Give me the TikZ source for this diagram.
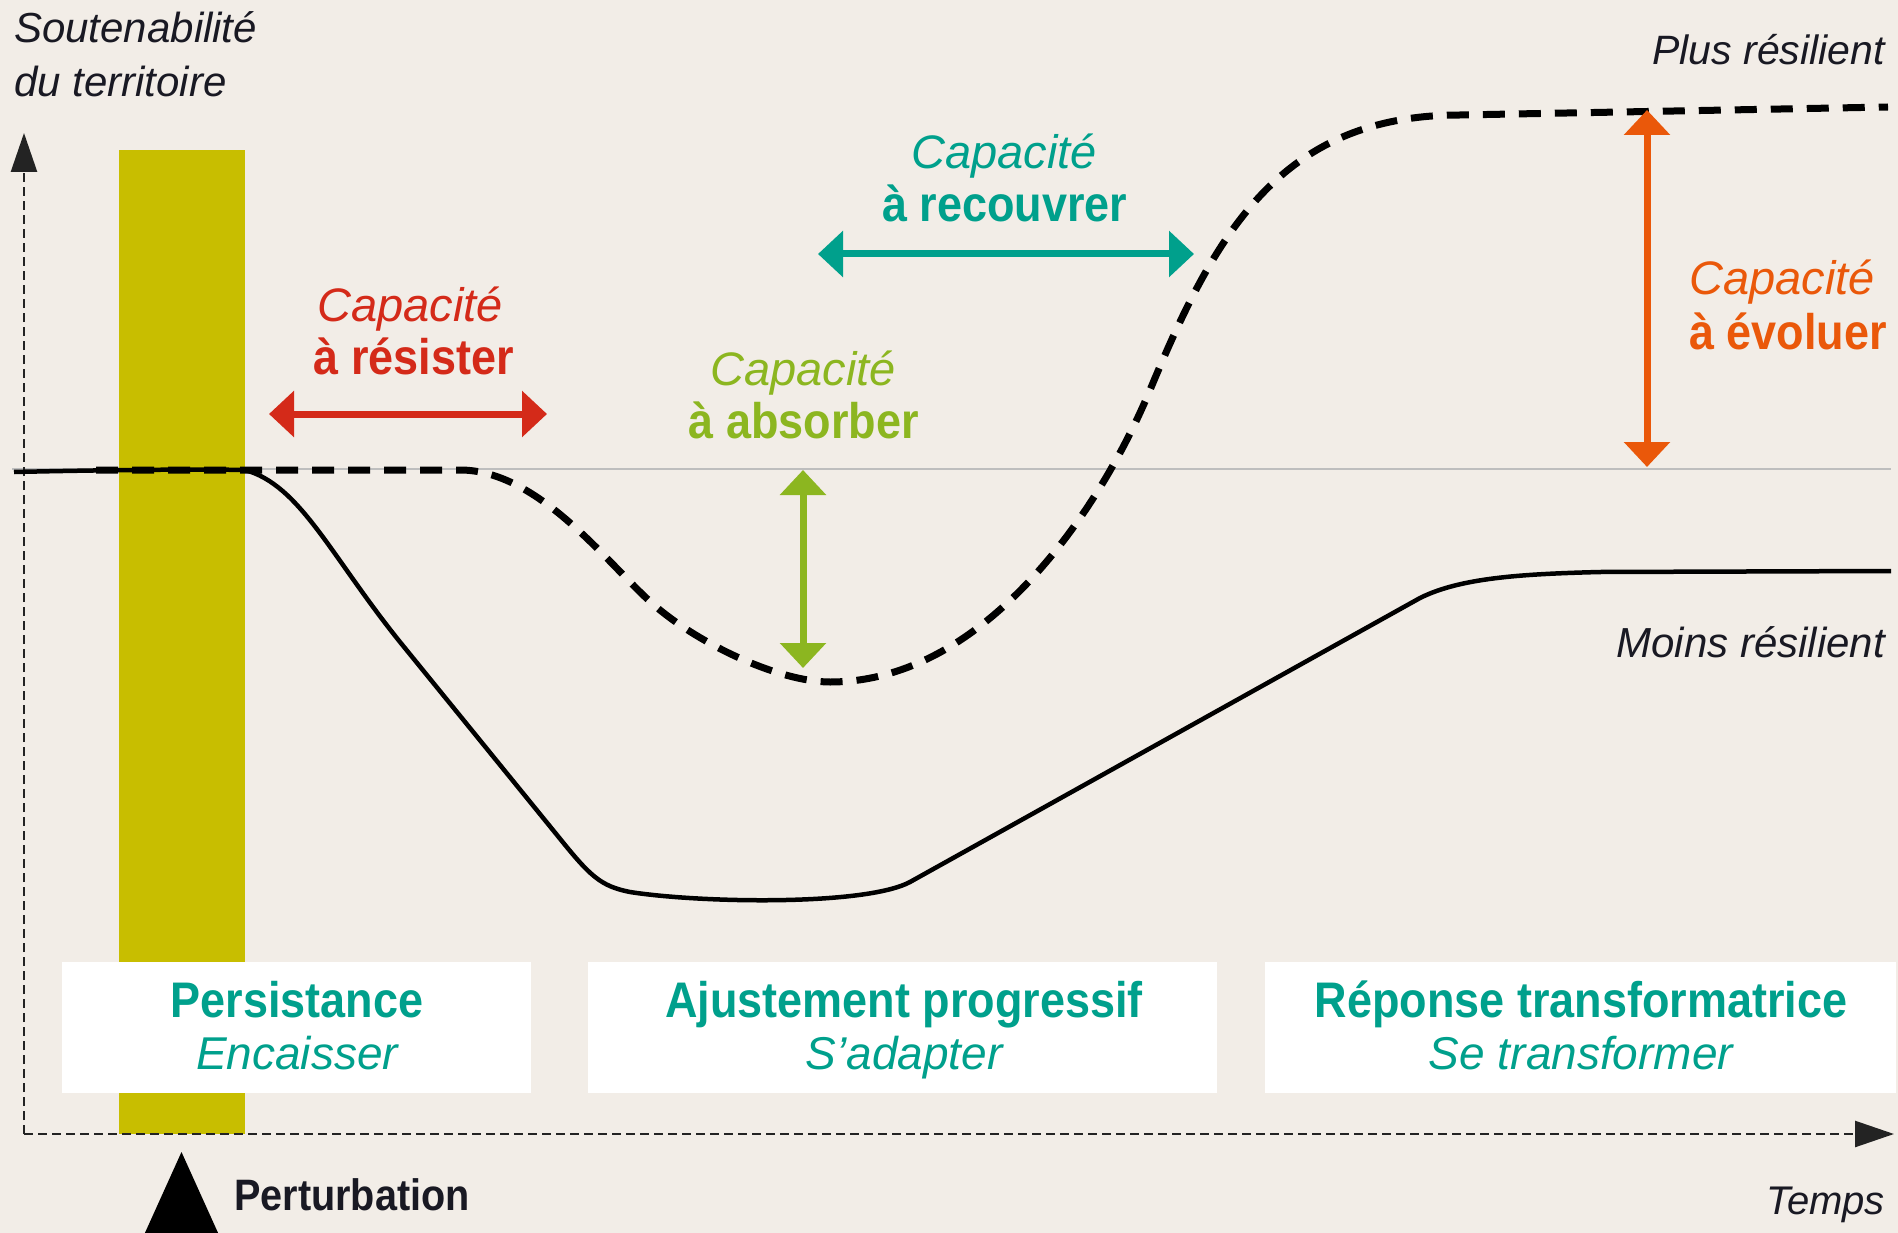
\documentclass[tikz,border=0pt]{standalone}
\usepackage{fontspec}
\setmainfont{Liberation Sans}
\newfontfamily\bcond[FakeStretch=0.9]{Liberation Sans}
\usetikzlibrary{arrows.meta}
\definecolor{bg}{RGB}{242,237,231}
\definecolor{barcol}{RGB}{200,190,0}
\definecolor{cred}{RGB}{212,42,25}
\definecolor{cgreen}{RGB}{140,182,32}
\definecolor{cteal}{RGB}{0,160,140}
\definecolor{corange}{RGB}{234,88,10}
\definecolor{axisc}{RGB}{35,35,35}
\definecolor{refc}{RGB}{190,190,190}
\definecolor{txt}{RGB}{25,25,35}
\begin{document}
\begin{tikzpicture}[x=1pt,y=-1pt,
  lab/.style={inner sep=0pt, anchor=base},
  itxt/.style={font=\fontsize{42}{50}\selectfont\itshape, text=txt},
  captxt/.style={font=\fontsize{47}{56}\selectfont\itshape},
  boldtxt/.style={font=\fontsize{50}{60}\selectfont\bcond\bfseries},
  subtxt/.style={font=\fontsize{46}{55}\selectfont\itshape, text=cteal},
  dbl/.style={line width=7pt, {Triangle[length=25pt,width=45pt]}-{Triangle[length=25pt,width=45pt]}},
  axisline/.style={axisc, line width=2.5pt, dash pattern=on 9pt off 5pt},
  whitebox/.style={fill=white, draw=none, inner sep=0pt},
  solidcurve/.style={black, line width=4.5pt, line join=round},
  dashcurve/.style={black, line width=7pt, dash pattern=on 22pt off 14pt}
]
\useasboundingbox (0,0) rectangle (1898,1233);
\fill[fill=bg] (0,0) rectangle (1898,1233);

% perturbation bar
\fill[fill=barcol] (119,150) rectangle (245,1134);

% reference line
\coordinate (refL) at (12,469);
\coordinate (refR) at (1891,469);
\draw[refc, line width=2pt] (refL) -- (refR);

% axes
\coordinate (origin) at (24,1134);
\coordinate (ytop) at (24,133);
\coordinate (xend) at (1894,1134);
\draw[axisline, -{Triangle[length=39pt,width=26pt]}] (origin) -- (ytop);
\draw[axisline, -{Triangle[length=39pt,width=26pt]}] (origin) -- (xend);

% less resilient (solid)
\draw[solidcurve] (14,472) .. controls (100,470) and (200,469) .. (245,470)
  .. controls (300,485) and (330,555) .. (400,642) -- (557,835)
  .. controls (590,876) and (600,886) .. (630,892)
  .. controls (700,903) and (865,906) .. (910,882) -- (1420,598)
  .. controls (1460,578) and (1520,574) .. (1600,572) -- (1891,571);

% more resilient (dashed)
\draw[dashcurve] (96,470) -- (460,470)
  .. controls (540,470) and (610,567) .. (654,605)
  .. controls (700,645) and (780,682) .. (830,682)
  .. controls (985,682) and (1100,510) .. (1150,390)
  .. controls (1215,234) and (1280,115) .. (1460,115)
  -- (1888,107);

% capacity arrows
\coordinate (rL) at (269,414); \coordinate (rR) at (547,414);
\draw[dbl, cred] (rL) -- (rR);
\coordinate (gT) at (803,470); \coordinate (gB) at (803,668);
\draw[dbl, cgreen] (gT) -- (gB);
\coordinate (tL) at (818,254); \coordinate (tR) at (1194,254);
\draw[dbl, cteal] (tL) -- (tR);
\coordinate (oT) at (1647,110); \coordinate (oB) at (1647,467);
\draw[dbl, corange] (oT) -- (oB);

% capacity labels
\node[lab, captxt, text=cred] (rc1) at (410,322) {Capacité};
\node[lab, boldtxt, text=cred] (rc2) at (414,374) {à résister};
\node[lab, captxt, text=cgreen] (gc1) at (803,385) {Capacité};
\node[lab, boldtxt, text=cgreen] (gc2) at (804,438) {à absorber};
\node[lab, captxt, text=cteal] (tc1) at (1004,169) {Capacité};
\node[lab, boldtxt, text=cteal] (tc2) at (1005,222) {à recouvrer};
\node[lab, captxt, text=corange, anchor=base west] (oc1) at (1689,295) {Capacité};
\node[lab, boldtxt, text=corange, anchor=base west] (oc2) at (1689,349) {à évoluer};

% phase boxes
\node[whitebox, minimum width=469pt, minimum height=131pt] (box1) at (296.5,1027.5) {};
\node[whitebox, minimum width=629pt, minimum height=131pt] (box2) at (902.5,1027.5) {};
\node[whitebox, minimum width=631pt, minimum height=131pt] (box3) at (1580.5,1027.5) {};
\node[lab, boldtxt, text=cteal] (b1t) at (297,1017) {Persistance};
\node[lab, subtxt] (b1s) at (297,1069) {Encaisser};
\node[lab, boldtxt, text=cteal] (b2t) at (904,1017) {Ajustement progressif};
\node[lab, subtxt] (b2s) at (904,1069) {S’adapter};
\node[lab, boldtxt, text=cteal] (b3t) at (1581,1017) {Réponse transformatrice};
\node[lab, subtxt] (b3s) at (1581,1069) {Se transformer};

% axis and curve labels
\node[lab, itxt, anchor=base west] (ylab1) at (14,43) {Soutenabilité};
\node[lab, itxt, anchor=base west] (ylab2) at (14,97) {du territoire};
\node[lab, itxt, font=\fontsize{41}{50}\selectfont\itshape, anchor=base east] (plus) at (1885,65) {Plus résilient};
\node[lab, itxt, anchor=base east] (moins) at (1885,657) {Moins résilient};
\node[lab, itxt, font=\fontsize{40}{48}\selectfont\itshape, anchor=base east] (temps) at (1885,1214) {Temps};

% perturbation marker
\fill[fill=black] (181.5,1152) -- (219,1235) -- (144,1235) -- cycle;
\node[lab, font=\fontsize{44}{52}\selectfont\bcond\bfseries, text=txt, anchor=base west] (pert) at (234,1210) {Perturbation};
\end{tikzpicture}
\end{document}
